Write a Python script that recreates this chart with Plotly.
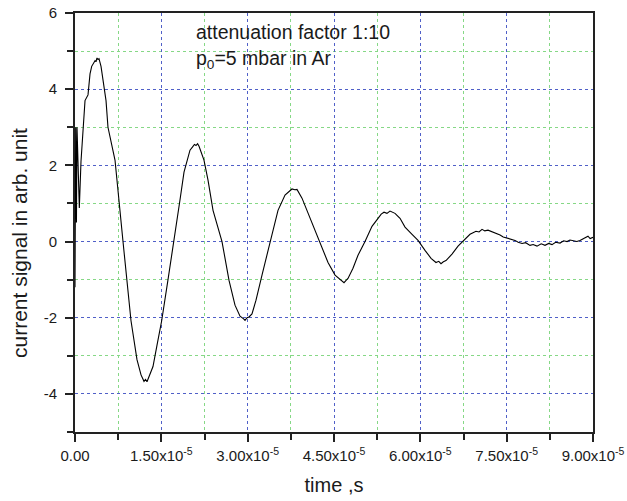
import plotly.graph_objects as go

# time in seconds, signal in arb. units
t_e5 = [0.000, 0.012, 0.025, 0.035, 0.052, 0.075, 0.104, 0.139, 0.174, 0.226, 0.261, 0.290,
        0.313, 0.348, 0.365, 0.382, 0.400, 0.417, 0.452, 0.487, 0.539, 0.573, 0.630, 0.695,
        0.834, 0.973, 1.077, 1.147, 1.199, 1.225, 1.251, 1.303, 1.355, 1.425, 1.506, 1.616,
        1.720, 1.824, 1.894, 1.946, 1.998, 2.050, 2.075, 2.102, 2.130, 2.155, 2.207, 2.241,
        2.311, 2.398, 2.554, 2.676, 2.780, 2.867, 2.930, 2.954, 2.990, 3.023, 3.075, 3.145,
        3.249, 3.388, 3.527, 3.649, 3.720, 3.770, 3.820, 3.857, 3.944, 4.031, 4.170, 4.257,
        4.396, 4.518, 4.604, 4.640, 4.674, 4.710, 4.743, 4.830, 4.917, 5.039, 5.160, 5.265,
        5.320, 5.369, 5.420, 5.473, 5.520, 5.560, 5.647, 5.734, 5.856, 5.960, 6.081, 6.186,
        6.272, 6.320, 6.359, 6.400, 6.446, 6.550, 6.655, 6.741, 6.863, 6.967, 7.020, 7.072,
        7.120, 7.176, 7.230, 7.280, 7.385, 7.440, 7.506, 7.580, 7.645, 7.700, 7.767, 7.830,
        7.906, 7.960, 8.027, 8.100, 8.166, 8.230, 8.288, 8.350, 8.427, 8.490, 8.549, 8.600,
        8.653, 8.720, 8.774, 8.820, 8.861, 8.913, 8.950, 9.000]
signal = [-1.2, 3.0, 0.5, 3.0, 2.1, 0.88, 2.1, 3.0, 3.7, 3.85, 4.4, 4.6,
          4.65, 4.75, 4.72, 4.82, 4.78, 4.8, 4.6, 4.24, 3.7, 3.0, 2.6, 2.14,
          0.0, -2.08, -3.1, -3.5, -3.67, -3.62, -3.68, -3.5, -3.28, -2.72, -2.08, -1.0,
          0.0, 1.09, 1.82, 2.14, 2.4, 2.5, 2.55, 2.52, 2.57, 2.5, 2.27, 2.14,
          1.61, 0.82, 0.0, -1.02, -1.67, -1.96, -2.03, -2.07, -2.0, -1.98, -1.9, -1.54,
          -0.88, 0.0, 0.82, 1.22, 1.33, 1.38, 1.36, 1.37, 1.14, 0.82, 0.3, 0.0,
          -0.55, -0.88, -1.0, -1.05, -1.08, -1.02, -0.97, -0.7, -0.36, 0.0, 0.4, 0.61,
          0.72, 0.77, 0.74, 0.8, 0.76, 0.74, 0.61, 0.38, 0.19, 0.03, -0.23, -0.44,
          -0.55, -0.52, -0.58, -0.53, -0.5, -0.33, -0.12, 0.0, 0.19, 0.27, 0.25, 0.32,
          0.28, 0.3, 0.27, 0.24, 0.17, 0.12, 0.09, 0.05, 0.03, -0.02, -0.05, -0.03,
          -0.1, -0.08, -0.12, -0.06, -0.1, -0.05, -0.08, -0.02, -0.04, 0.02, 0.0, 0.04,
          0.03, 0.0, 0.03, 0.07, 0.09, 0.14, 0.08, 0.11]

t = [v * 1e-5 for v in t_e5]

x_tickvals = [0, 1.5e-5, 3.0e-5, 4.5e-5, 6.0e-5, 7.5e-5, 9.0e-5]
x_ticktext = ["0.00", "1.50x10<sup>-5</sup>", "3.00x10<sup>-5</sup>", "4.50x10<sup>-5</sup>",
              "6.00x10<sup>-5</sup>", "7.50x10<sup>-5</sup>", "9.00x10<sup>-5</sup>"]
y_tickvals = [-4, -2, 0, 2, 4, 6]
y_ticktext = ["-4", "-2", "0", "2", "4", "6"]

fig = go.Figure()
fig.add_trace(go.Scatter(x=t, y=signal, mode="lines",
                         line=dict(color="black", width=1.1), showlegend=False))

font = "Liberation Sans, Arial, sans-serif"
fig.update_layout(
    width=627, height=501,
    margin=dict(l=75, r=34, t=13, b=69),
    paper_bgcolor="white", plot_bgcolor="white",
    font=dict(family=font, color="#1a1a1a", size=15),
)
fig.update_xaxes(
    automargin=False, ticklabeloverflow="allow", ticklabelstandoff=1,
    range=[0, 9e-5], tickvals=x_tickvals, ticktext=x_ticktext,
    ticks="outside", ticklen=8, tickwidth=2, tickcolor="#222",
    showline=True, linecolor="#222", linewidth=2, mirror=True,
    showgrid=True, gridcolor="#5060c8", griddash="dot", gridwidth=1,
    zeroline=False,
    minor=dict(dtick=0.75e-5, tick0=0, ticks="outside", ticklen=6, tickwidth=2,
               tickcolor="#222", showgrid=True, gridcolor="#86d886",
               griddash="dot", gridwidth=1),
    title=dict(text="time ,s", font=dict(size=20), standoff=15),
    tickfont=dict(size=15),
)
fig.update_yaxes(
    automargin=False, ticklabeloverflow="allow", ticklabelstandoff=5,
    range=[-5, 6], tickvals=y_tickvals, ticktext=y_ticktext,
    ticks="outside", ticklen=8, tickwidth=2, tickcolor="#222",
    showline=True, linecolor="#222", linewidth=2, mirror=True,
    showgrid=True, gridcolor="#5060c8", griddash="dot", gridwidth=1,
    zeroline=False,
    minor=dict(dtick=1, tick0=-5, ticks="outside", ticklen=6, tickwidth=2,
               tickcolor="#222", showgrid=True, gridcolor="#86d886",
               griddash="dot", gridwidth=1),
    tickfont=dict(size=15),
)
# y-axis title (placed slightly below the plot centre, as in the reference)
fig.add_annotation(x=0, y=0.451, xref="paper", yref="paper", xanchor="center", yanchor="middle",
                   xshift=-56, textangle=-90, showarrow=False,
                   text="current signal in arb. unit",
                   font=dict(size=21, color="#1a1a1a", family=font))
fig.add_annotation(x=0, y=1, xref="paper", yref="paper", xanchor="left", yanchor="middle",
                   xshift=119, yshift=-19, align="left", showarrow=False,
                   text="attenuation factor 1:10",
                   font=dict(size=19.5, color="#1a1a1a", family=font))
fig.add_annotation(x=0, y=1, xref="paper", yref="paper", xanchor="left", yanchor="middle",
                   xshift=119, yshift=-46, align="left", showarrow=False,
                   text="p<sub>0</sub>=5 mbar in Ar",
                   font=dict(size=19.5, color="#1a1a1a", family=font))

fig.write_html("out.html", config={"displayModeBar": False},
               post_script="document.body.style.margin='0';")
